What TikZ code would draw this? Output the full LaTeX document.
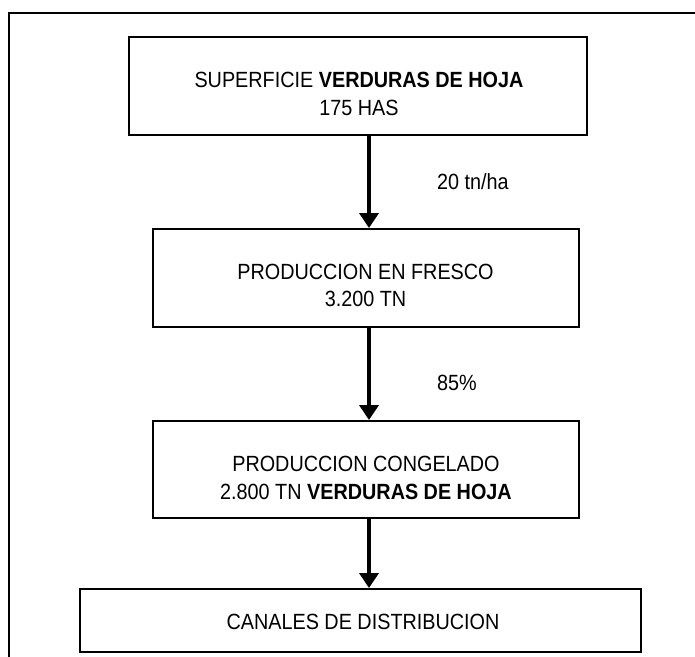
\documentclass[tikz,border=0pt]{standalone}
\usepackage{fontspec}
\setmainfont{Liberation Sans}[FakeStretch=0.9]
\usetikzlibrary{arrows.meta}
\begin{document}
\begin{tikzpicture}[x=1pt,y=-1pt,
  box/.style={draw,line width=2pt,rectangle,inner sep=0pt},
  txt/.style={inner sep=0pt,anchor=base,font=\fontsize{22}{26}\selectfont},
  lbl/.style={inner sep=0pt,anchor=base west,font=\fontsize{22}{26}\selectfont},
  flow/.style={line width=4pt,-{Triangle[width=19pt,length=15pt]}}]
\useasboundingbox (0,0) rectangle (695,656);
% outer frame (right and bottom edges lie beyond the picture)
\draw[line width=2pt] (9,660) -- (9,12.7) -- (700,12.7);
% boxes
\node[box,minimum width=458pt,minimum height=98pt] (b1) at (358,86) {};
\node[box,minimum width=426pt,minimum height=98pt] (b2) at (366,278) {};
\node[box,minimum width=426pt,minimum height=97pt] (b3) at (366,469.5) {};
\node[box,minimum width=561pt,minimum height=63pt] (b4) at (360.5,620.5) {};
% texts
\node[txt] (t1a) at (359,87.3) {SUPERFICIE \textbf{VERDURAS DE HOJA}};
\node[txt] (t1b) at (359,115) {175 HAS};
\node[txt] (t2a) at (365.5,279.3) {PRODUCCION EN FRESCO};
\node[txt] (t2b) at (365.5,306.5) {3.200 TN};
\node[txt] (t3a) at (366,471.7) {PRODUCCION CONGELADO};
\node[txt] (t3b) at (366,499.3) {2.800 TN \textbf{VERDURAS DE HOJA}};
\node[txt] (t4) at (363,629.3) {CANALES DE DISTRIBUCION};
\node[lbl] (l1) at (437,189.3) {20 tn/ha};
\node[lbl] (l2) at (437,390) {85\%};
% arrows
\coordinate (ax) at (369,0);
\draw[flow] (b1.south -| ax) -- (b2.north -| ax);
\draw[flow] (b2.south -| ax) -- (b3.north -| ax);
\draw[flow] (b3.south -| ax) -- (b4.north -| ax);
\end{tikzpicture}
\end{document}
